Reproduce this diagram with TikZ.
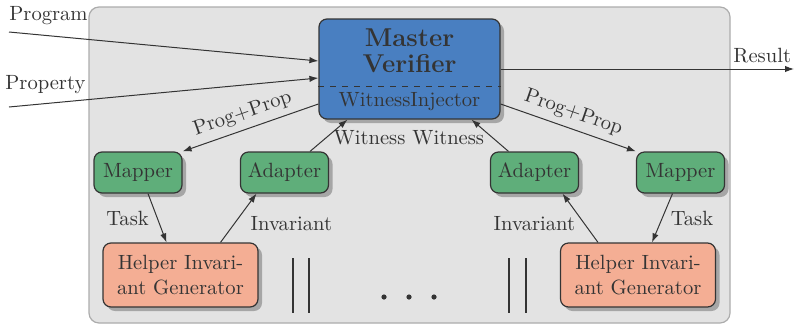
\documentclass[tikz,border=0pt]{standalone}
\usetikzlibrary{shadows,arrows.meta}

\definecolor{mvblue}{RGB}{73,127,193}
\definecolor{mapgreen}{RGB}{95,174,122}
\definecolor{helporange}{RGB}{244,174,148}
\definecolor{bggray}{RGB}{227,227,227}
\definecolor{bgline}{RGB}{172,172,172}
\definecolor{ink}{RGB}{52,52,52}

\tikzset{
  box/.style={draw=ink, line width=0.6pt, rounded corners=4pt, text=ink,
    drop shadow={shadow xshift=2pt, shadow yshift=-2pt, fill=black!35, opacity=1}},
  master/.style={box, fill=mvblue, minimum width=90.5pt, minimum height=50pt},
  mapbox/.style={box, fill=mapgreen, minimum width=44pt, minimum height=20.5pt, inner sep=0pt},
  helpbox/.style={box, fill=helporange, minimum width=77.5pt, minimum height=32pt, align=center, inner sep=0pt},
  lbl/.style={text=ink, inner sep=0pt},
  arr/.style={draw=ink, line width=0.5pt, -{Latex[length=4.5pt,width=3.2pt]}},
  bar/.style={draw=ink, line width=1.1pt}
}

\begin{document}
\begin{tikzpicture}[x=0.5pt, y=-0.5pt, font=\fontsize{10.3}{12.4}\selectfont]
  \useasboundingbox (0,0) rectangle (795,327);

  % Drawing the grey frame
  \draw[fill=bggray, draw=bgline, line width=0.6pt, rounded corners=5pt] (89,7) rectangle (730,323);

  % Drawing the master verifier
  \node[master] (mv) at (409.5,69) {};
  \node[lbl, align=center, font=\fontsize{12.9}{13}\selectfont\bfseries] (mvname) at (409.5,51) {Master\\Verifier};
  \draw[ink, dashed, line width=0.5pt] (mv.west |- 0,86) -- (mv.east |- 0,86);
  \node[lbl] (inj) at (409.5,102) {WitnessInjector};

  % Drawing mappers and adapters
  \node[mapbox] (lmap) at (138,172.5) {Mapper};
  \node[mapbox] (ladp) at (284.5,172.5) {Adapter};
  \node[mapbox] (radp) at (534.5,172.5) {Adapter};
  \node[mapbox] (rmap) at (680.5,172.5) {Mapper};

  % Drawing helper generators
  \node[helpbox] (lhelp) at (180.5,275) {Helper Invari-\\ant Generator};
  \node[helpbox] (rhelp) at (638,275) {Helper Invari-\\ant Generator};

  % Drawing inputs and output
  \coordinate (prog) at (9,32);
  \coordinate (prop) at (9,107);
  \coordinate (res) at (794,69);
  \draw[arr] (prog) -- ([yshift=4pt]mv.west);
  \draw[arr] (prop) -- ([yshift=-4.5pt]mv.west);
  \draw[arr] (mv.east) -- (res);
  \node[lbl, anchor=base west] (proglbl) at (9,20) {Program};
  \node[lbl, anchor=base west] (proplbl) at (5,89) {Property};
  \node[lbl, anchor=base west] (reslbl) at (733,62) {Result};

  % Drawing tasks sent out
  \draw[arr] ([yshift=-17.5pt]mv.west) -- node[lbl, pos=0.52, sloped, above=3pt] (lpp) {Prog+Prop} (lmap.north east);
  \draw[arr] ([yshift=-17.5pt]mv.east) -- node[lbl, pos=0.5, sloped, above=3pt] (rpp) {Prog+Prop} (rmap.north west);

  % Drawing witnesses sent back
  \draw[arr] ([xshift=12.75pt]ladp.north) -- node[lbl, pos=0.43, anchor=west, xshift=3.5pt] (lwit) {Witness} ([xshift=-31pt]mv.south);
  \draw[arr] ([xshift=-13pt]radp.north) -- node[lbl, pos=0.43, anchor=east, xshift=-4pt] (rwit) {Witness} ([xshift=31pt]mv.south);

  % Drawing left helper loop
  \draw[arr] ([xshift=5pt]lmap.south) -- node[lbl, anchor=east, xshift=-4pt] (ltask) {Task} ([xshift=-7pt]lhelp.north);
  \draw[arr] ([xshift=20pt]lhelp.north) -- node[lbl, pos=0.38, anchor=west, xshift=8pt] (linv) {Invariant} ([xshift=-14pt]ladp.south);

  % Drawing right helper loop
  \draw[arr] ([xshift=-4pt]rmap.south) -- node[lbl, anchor=west, xshift=4pt] (rtask) {Task} ([xshift=7pt]rhelp.north);
  \draw[arr] ([xshift=-20pt]rhelp.north) -- node[lbl, pos=0.38, anchor=east, xshift=-4.5pt] (rinv) {Invariant} ([xshift=14pt]radp.south);

  % Drawing parallel bars and dots
  \draw[bar] (293,258) -- (293,313);
  \draw[bar] (309,258) -- (309,313);
  \draw[bar] (509,258) -- (509,313);
  \draw[bar] (526,258) -- (526,313);
  \foreach \x in {384,409,434}
    \fill[ink] (\x,297) circle (1.3pt);
\end{tikzpicture}
\end{document}
